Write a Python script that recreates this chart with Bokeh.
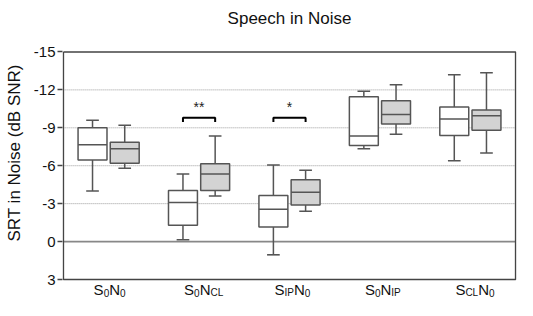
from bokeh.plotting import figure
from bokeh.models import Range1d, FixedTicker, ColumnDataSource
from bokeh.core.properties import value
from bokeh.embed import file_html
from bokeh.resources import INLINE

# ---------------- data ----------------
title_text = "Speech in Noise"
groups = [1, 2, 3, 4, 5]
label_main1 = ["S", "S", "S", "S", "S"]
label_sub1 = ["0", "0", "IP", "0", "CL"]
label_main2 = ["N", "N", "N", "N", "N"]
label_sub2 = ["0", "CL", "0", "IP", "0"]

# white boxes (first condition of each pair), SRT in dB SNR
a_lo = [-9.6, -5.35, -6.05, -11.9, -13.2]     # whisker end (best)
a_q1 = [-9.0, -4.05, -3.65, -11.45, -10.65]
a_med = [-7.65, -3.1, -2.55, -8.35, -9.7]
a_q3 = [-6.45, -1.3, -1.15, -7.6, -8.4]
a_hi = [-4.0, -0.15, 1.05, -7.35, -6.4]       # whisker end (worst)

# gray boxes (second condition of each pair)
b_lo = [-9.2, -8.35, -5.65, -12.4, -13.35]
b_q1 = [-7.85, -6.15, -4.9, -11.15, -10.4]
b_med = [-7.35, -5.35, -3.9, -10.05, -9.95]
b_q3 = [-6.2, -4.05, -2.9, -9.3, -8.8]
b_hi = [-5.8, -3.6, -2.4, -8.5, -7.0]

sig_groups = [2, 3]
sig_text = ["**", "*"]
sig_level = [-9.8, -9.8]

y_ticks = [-15, -12, -9, -6, -3, 0, 3]
y_tick_labels = ["-15", "-12", "-9", "-6", "-3", "0", "3"]
grid_ticks = [-12, -9, -6, -3]
y_min, y_max = -15, 3
x_min, x_max = 0.5, 5.5

# ---------------- style ----------------
FONT = "Liberation Sans"
EDGE = "#555555"
OFF = 0.178
BW = 0.32
CAP = 0.07

# frame fills the whole figure height; title and category labels are drawn inside it
p = figure(width=517, height=300, output_backend="svg", toolbar_location=None,
           x_range=Range1d(0.49, 5.51), y_range=Range1d(4.66, -19.07),
           min_border_left=62, min_border_right=1, min_border_top=0,
           min_border_bottom=0)

p.outline_line_color = None
p.background_fill_color = "white"
p.border_fill_color = "white"

p.xaxis.visible = False
p.xgrid.visible = False
p.ygrid.visible = False

yax = p.yaxis[0]
yax.ticker = FixedTicker(ticks=y_ticks)
yax.major_label_overrides = {t: s for t, s in zip(y_ticks, y_tick_labels)}
yax.axis_label = "SRT in  Noise (dB SNR)"
yax.axis_label_text_font = FONT
yax.axis_label_text_font_size = "17px"
yax.axis_label_text_font_style = "normal"
yax.axis_label_text_color = "#111111"
yax.axis_label_standoff = 7
yax.major_label_text_font = FONT
yax.major_label_text_font_size = "15px"
yax.major_label_text_color = "#111111"
yax.axis_line_color = None
yax.major_tick_line_color = "#444444"
yax.major_tick_line_width = 1.5
yax.major_tick_out = 5
yax.major_tick_in = 0
yax.minor_tick_line_color = None
yax.major_label_standoff = 2

# title
p.text(x=[(x_min + x_max) / 2], y=[-17.65], text=[title_text], text_align="center",
       text_baseline="middle", text_font=value(FONT), text_font_size="17px",
       text_color="#111111")

# dotted grid lines and zero line
p.segment(x0=[x_min] * len(grid_ticks), x1=[x_max] * len(grid_ticks),
          y0=grid_ticks, y1=grid_ticks, line_color="#9a9a9a", line_width=1,
          line_dash="1 1")
p.segment(x0=[x_min], x1=[x_max], y0=[0], y1=[0], line_color="#888888", line_width=1.6)

# frame box
p.line(x=[x_min, x_max, x_max, x_min, x_min], y=[y_min, y_min, y_max, y_max, y_min],
       line_color="#444444", line_width=1.5)


def draw_boxes(offset, lo, q1, med, q3, hi, fill):
    xs = [g + offset for g in groups]
    src = ColumnDataSource(dict(x=xs, lo=lo, q1=q1, med=med, q3=q3, hi=hi,
                                xl=[x - BW / 2 for x in xs], xr=[x + BW / 2 for x in xs],
                                cl=[x - CAP for x in xs], cr=[x + CAP for x in xs]))
    p.segment(x0="x", y0="lo", x1="x", y1="q1", source=src, line_color=EDGE, line_width=1.5)
    p.segment(x0="x", y0="q3", x1="x", y1="hi", source=src, line_color=EDGE, line_width=1.5)
    p.segment(x0="cl", y0="lo", x1="cr", y1="lo", source=src, line_color=EDGE, line_width=1.5)
    p.segment(x0="cl", y0="hi", x1="cr", y1="hi", source=src, line_color=EDGE, line_width=1.5)
    p.quad(left="xl", right="xr", bottom="q3", top="q1", source=src,
           fill_color=fill, line_color=EDGE, line_width=1.5)
    p.segment(x0="xl", y0="med", x1="xr", y1="med", source=src, line_color=EDGE, line_width=1.5)


draw_boxes(-OFF, a_lo, a_q1, a_med, a_q3, a_hi, "white")
draw_boxes(OFF, b_lo, b_q1, b_med, b_q3, b_hi, "#d3d3d3")

# significance brackets
for g, t, lvl in zip(sig_groups, sig_text, sig_level):
    x0, x1 = g - OFF, g + OFF
    p.line(x=[x0, x0, x1, x1], y=[lvl + 0.35, lvl, lvl, lvl + 0.35],
           line_color="black", line_width=2)
    p.text(x=[g], y=[lvl - 0.2], text=[t], text_align="center", text_baseline="bottom",
           text_font=value(FONT), text_font_size="14px", text_color="#222222")

# category labels with subscripts
W = {"S": 0.667, "N": 0.722, "0": 0.556, "C": 0.722, "L": 0.556, "I": 0.278, "P": 0.667}
MAIN, SUB = 15, 10


def tw(s, size):
    return sum(W[c] for c in s) * size


label_y = 3.80
for g, m1, s1, m2, s2 in zip(groups, label_main1, label_sub1, label_main2, label_sub2):
    pos = -15.0
    for txt, size, dy in ((m1, MAIN, 0), (s1, SUB, 3), (m2, MAIN, 0), (s2, SUB, 3)):
        p.text(x=[g], y=[label_y], x_offset=pos, y_offset=dy, text=[txt],
               text_font=value(FONT), text_font_size=f"{size}px",
               text_color="#111111", text_align="left", text_baseline="alphabetic")
        pos += tw(txt, size)

open("out.html", "w").write(file_html(p, INLINE))
